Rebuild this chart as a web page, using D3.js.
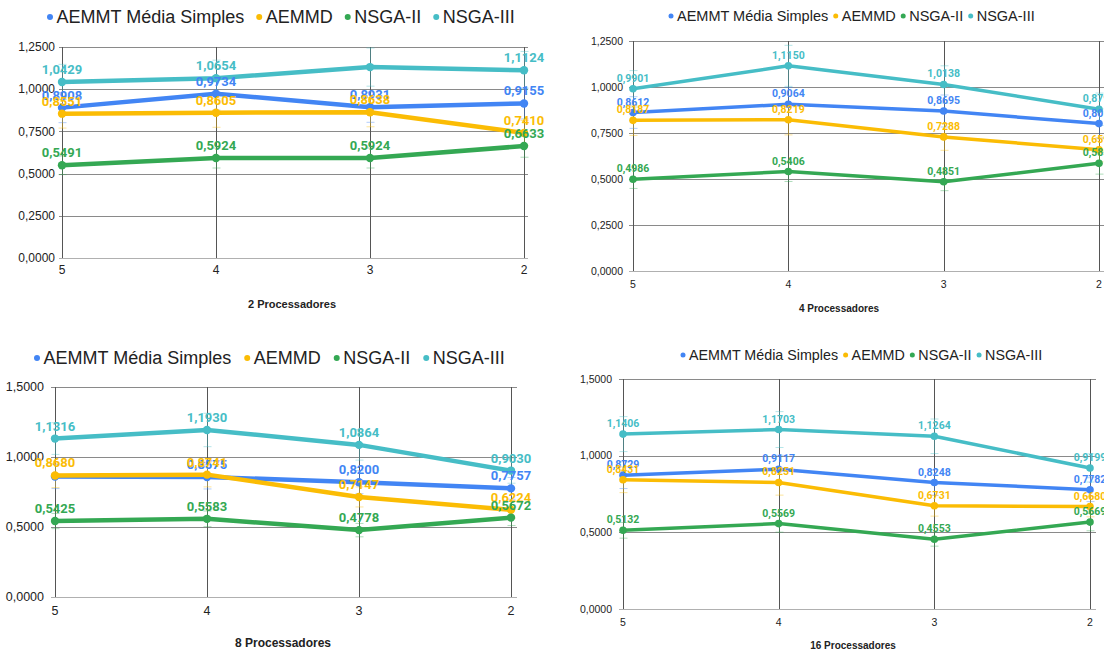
<!DOCTYPE html>
<html>
<head>
<meta charset="utf-8">
<script src="https://cdn.jsdelivr.net/npm/d3@7"></script>
<style>
  html, body { margin: 0; padding: 0; background: #fff; }
  svg { display: block; }
</style>
</head>
<body>
<svg id="chart" width="1104" height="653"></svg>
<script>
// Categories on the x axis (number of objectives, decreasing)
const categories = ["5", "4", "3", "2"];
const panelTitles = ["2 Processadores", "4 Processadores", "8 Processadores", "16 Processadores"];
const seriesNames = ["AEMMT Média Simples", "AEMMD", "NSGA-II", "NSGA-III"];
const seriesColors = ["#4285F4", "#FBBC04", "#34A853", "#46BDC6"];

// One row per panel (2, 4, 8, 16 processors), one value per category
const aemmtValues = [
  [0.8908, 0.9734, 0.8931, 0.9155],
  [0.8612, 0.9064, 0.8695, 0.8010],
  [0.8606, 0.8575, 0.8200, 0.7757],
  [0.8729, 0.9117, 0.8248, 0.7782]
];
const aemmdValues = [
  [0.8551, 0.8605, 0.8638, 0.7410],
  [0.8187, 0.8219, 0.7288, 0.6590],
  [0.8680, 0.8741, 0.7147, 0.6224],
  [0.8431, 0.8251, 0.6731, 0.6680]
];
const nsga2Values = [
  [0.5491, 0.5924, 0.5924, 0.6633],
  [0.4986, 0.5406, 0.4851, 0.5850],
  [0.5425, 0.5583, 0.4778, 0.5672],
  [0.5132, 0.5569, 0.4553, 0.5669]
];
const nsga3Values = [
  [1.0429, 1.0654, 1.1310, 1.1124],
  [0.9901, 1.1150, 1.0138, 0.8790],
  [1.1316, 1.1930, 1.0864, 0.9030],
  [1.1406, 1.1703, 1.1264, 0.9199]
];

// Y axis ticks per panel
const yTicks = [
  [0, 0.25, 0.5, 0.75, 1.0, 1.25],
  [0, 0.25, 0.5, 0.75, 1.0, 1.25],
  [0, 0.5, 1.0, 1.5],
  [0, 0.5, 1.0, 1.5]
];

// Error bars are ±10% of each value
const errorFraction = 0.10;

// Value labels that are not shown: [panel, series, category index]
const hiddenLabels = [[0, 3, 2], [2, 0, 0]];

// Layout of each panel
const layouts = [
  { x0: 62, x1: 524, yTop: 47, yBot: 258, gridL: 59, gridR: 528, yLabelX: 55,
    xLabelY: 274, titleX: 292, titleY: 308, titleSize: 11, tickSize: 12, labelSize: 13,
    legendX: 50, legendY: 17, legendSize: 18, dotR: 3, legendGap: 12, lineW: 4.5, r: 4.2, labelOff: 8 },
  { x0: 633, x1: 1099, yTop: 41, yBot: 271, gridL: 629, gridR: 1110, yLabelX: 623,
    xLabelY: 288, titleX: 839, titleY: 312, titleSize: 10, tickSize: 10.5, labelSize: 10.5,
    legendX: 671, legendY: 16, legendSize: 14.5, dotR: 2.5, legendGap: 5, lineW: 3.5, r: 3.8, labelOff: 7 },
  { x0: 55, x1: 511, yTop: 387, yBot: 597, gridL: 51, gridR: 517, yLabelX: 44,
    xLabelY: 615, titleX: 283, titleY: 647, titleSize: 12, tickSize: 12.5, labelSize: 13,
    legendX: 37, legendY: 358, legendSize: 18, dotR: 3, legendGap: 13, lineW: 4.5, r: 4.2, labelOff: 8 },
  { x0: 623, x1: 1090, yTop: 379, yBot: 609, gridL: 619, gridR: 1096, yLabelX: 612,
    xLabelY: 626, titleX: 853, titleY: 649, titleSize: 10, tickSize: 10.5, labelSize: 10.5,
    legendX: 683, legendY: 355, legendSize: 14.3, dotR: 2.5, legendGap: 5, lineW: 3.5, r: 3.8, labelOff: 7 }
];

const fmt = v => d3.format(".4f")(v).replace(".", ",");
const svg = d3.select("#chart");
svg.append("rect").attr("width", 1104).attr("height", 653).attr("fill", "#fff");

const allSeries = [aemmtValues, aemmdValues, nsga2Values, nsga3Values];

layouts.forEach((L, p) => {
  const g = svg.append("g");
  const ticks = yTicks[p];
  const x = d3.scalePoint().domain(categories).range([L.x0, L.x1]);
  const y = d3.scaleLinear().domain([0, d3.max(ticks)]).range([L.yBot, L.yTop]);

  // Horizontal gridlines
  g.selectAll(".hgrid").data(ticks).join("line")
    .attr("x1", L.gridL).attr("x2", L.gridR)
    .attr("y1", d => Math.round(y(d)) + 0.5).attr("y2", d => Math.round(y(d)) + 0.5)
    .attr("stroke", d => d === 0 ? "#b0b0b0" : "#8a8a8a").attr("stroke-width", 1);

  // Vertical gridlines at each category
  g.selectAll(".vgrid").data(categories).join("line")
    .attr("x1", d => Math.round(x(d)) + 0.5).attr("x2", d => Math.round(x(d)) + 0.5)
    .attr("y1", y(d3.max(ticks))).attr("y2", y(0))
    .attr("stroke", "#555").attr("stroke-width", 1);

  // Y tick labels
  g.selectAll(".ylab").data(ticks).join("text")
    .attr("x", L.yLabelX).attr("y", d => y(d))
    .attr("dy", "0.35em").attr("text-anchor", "end")
    .attr("font-family", "Liberation Sans, Arial, sans-serif")
    .attr("font-size", L.tickSize).attr("fill", "#222")
    .text(d => fmt(d));

  // X tick labels
  g.selectAll(".xlab").data(categories).join("text")
    .attr("x", d => x(d)).attr("y", L.xLabelY)
    .attr("text-anchor", "middle")
    .attr("font-family", "Liberation Sans, Arial, sans-serif")
    .attr("font-size", L.tickSize).attr("fill", "#222")
    .text(d => d);

  // Panel title
  g.append("text")
    .attr("x", L.titleX).attr("y", L.titleY)
    .attr("text-anchor", "middle")
    .attr("font-family", "Liberation Sans, Arial, sans-serif")
    .attr("font-weight", "bold")
    .attr("font-size", L.titleSize).attr("fill", "#222")
    .text(panelTitles[p]);

  const line = d3.line().x((d, i) => x(categories[i])).y(d => y(d));

  // Error bars
  allSeries.forEach((S, s) => {
    const vals = S[p];
    const eb = g.append("g").attr("stroke", seriesColors[s]).attr("stroke-opacity", 0.4).attr("stroke-width", 1);
    vals.forEach((v, i) => {
      const cx = Math.round(x(categories[i])) + 0.5;
      const lo = y(v * (1 - errorFraction)), hi = y(v * (1 + errorFraction));
      eb.append("line").attr("x1", cx).attr("x2", cx).attr("y1", lo).attr("y2", hi);
      eb.append("line").attr("x1", cx - 4).attr("x2", cx + 4).attr("y1", lo).attr("y2", lo);
      eb.append("line").attr("x1", cx - 4).attr("x2", cx + 4).attr("y1", hi).attr("y2", hi);
    });
  });

  // Lines and points
  allSeries.forEach((S, s) => {
    const vals = S[p];
    g.append("path").datum(vals)
      .attr("d", line).attr("fill", "none")
      .attr("stroke", seriesColors[s]).attr("stroke-width", L.lineW)
      .attr("stroke-linejoin", "round").attr("stroke-linecap", "round");
    g.selectAll(null).data(vals).join("circle")
      .attr("cx", (d, i) => x(categories[i])).attr("cy", d => y(d))
      .attr("r", L.r).attr("fill", seriesColors[s]);
  });

  // Value labels
  allSeries.forEach((S, s) => {
    const vals = S[p];
    g.selectAll(null).data(vals.map((v, i) => ({ v, i })).filter(d =>
        !hiddenLabels.some(h => h[0] === p && h[1] === s && h[2] === d.i)))
      .join("text")
      .attr("x", d => x(categories[d.i])).attr("y", d => y(d.v) - L.labelOff)
      .attr("text-anchor", "middle")
      .attr("font-family", "Roboto, sans-serif").attr("font-weight", "bold")
      .attr("font-size", L.labelSize).attr("fill", seriesColors[s])
      .text(d => fmt(d.v));
  });

  // Legend
  const lg = g.append("g");
  let cx = L.legendX;
  seriesNames.forEach((name, s) => {
    lg.append("circle").attr("cx", cx).attr("cy", L.legendY).attr("r", L.dotR).attr("fill", seriesColors[s]);
    const t = lg.append("text")
      .attr("x", cx + L.dotR + 3.5).attr("y", L.legendY).attr("dy", "0.35em")
      .attr("font-family", "Liberation Sans, Arial, sans-serif")
      .attr("font-size", L.legendSize).attr("fill", "#222")
      .text(name);
    cx += L.dotR + 3.5 + t.node().getComputedTextLength() + L.legendGap + L.dotR;
  });
});
</script>
</body>
</html>
